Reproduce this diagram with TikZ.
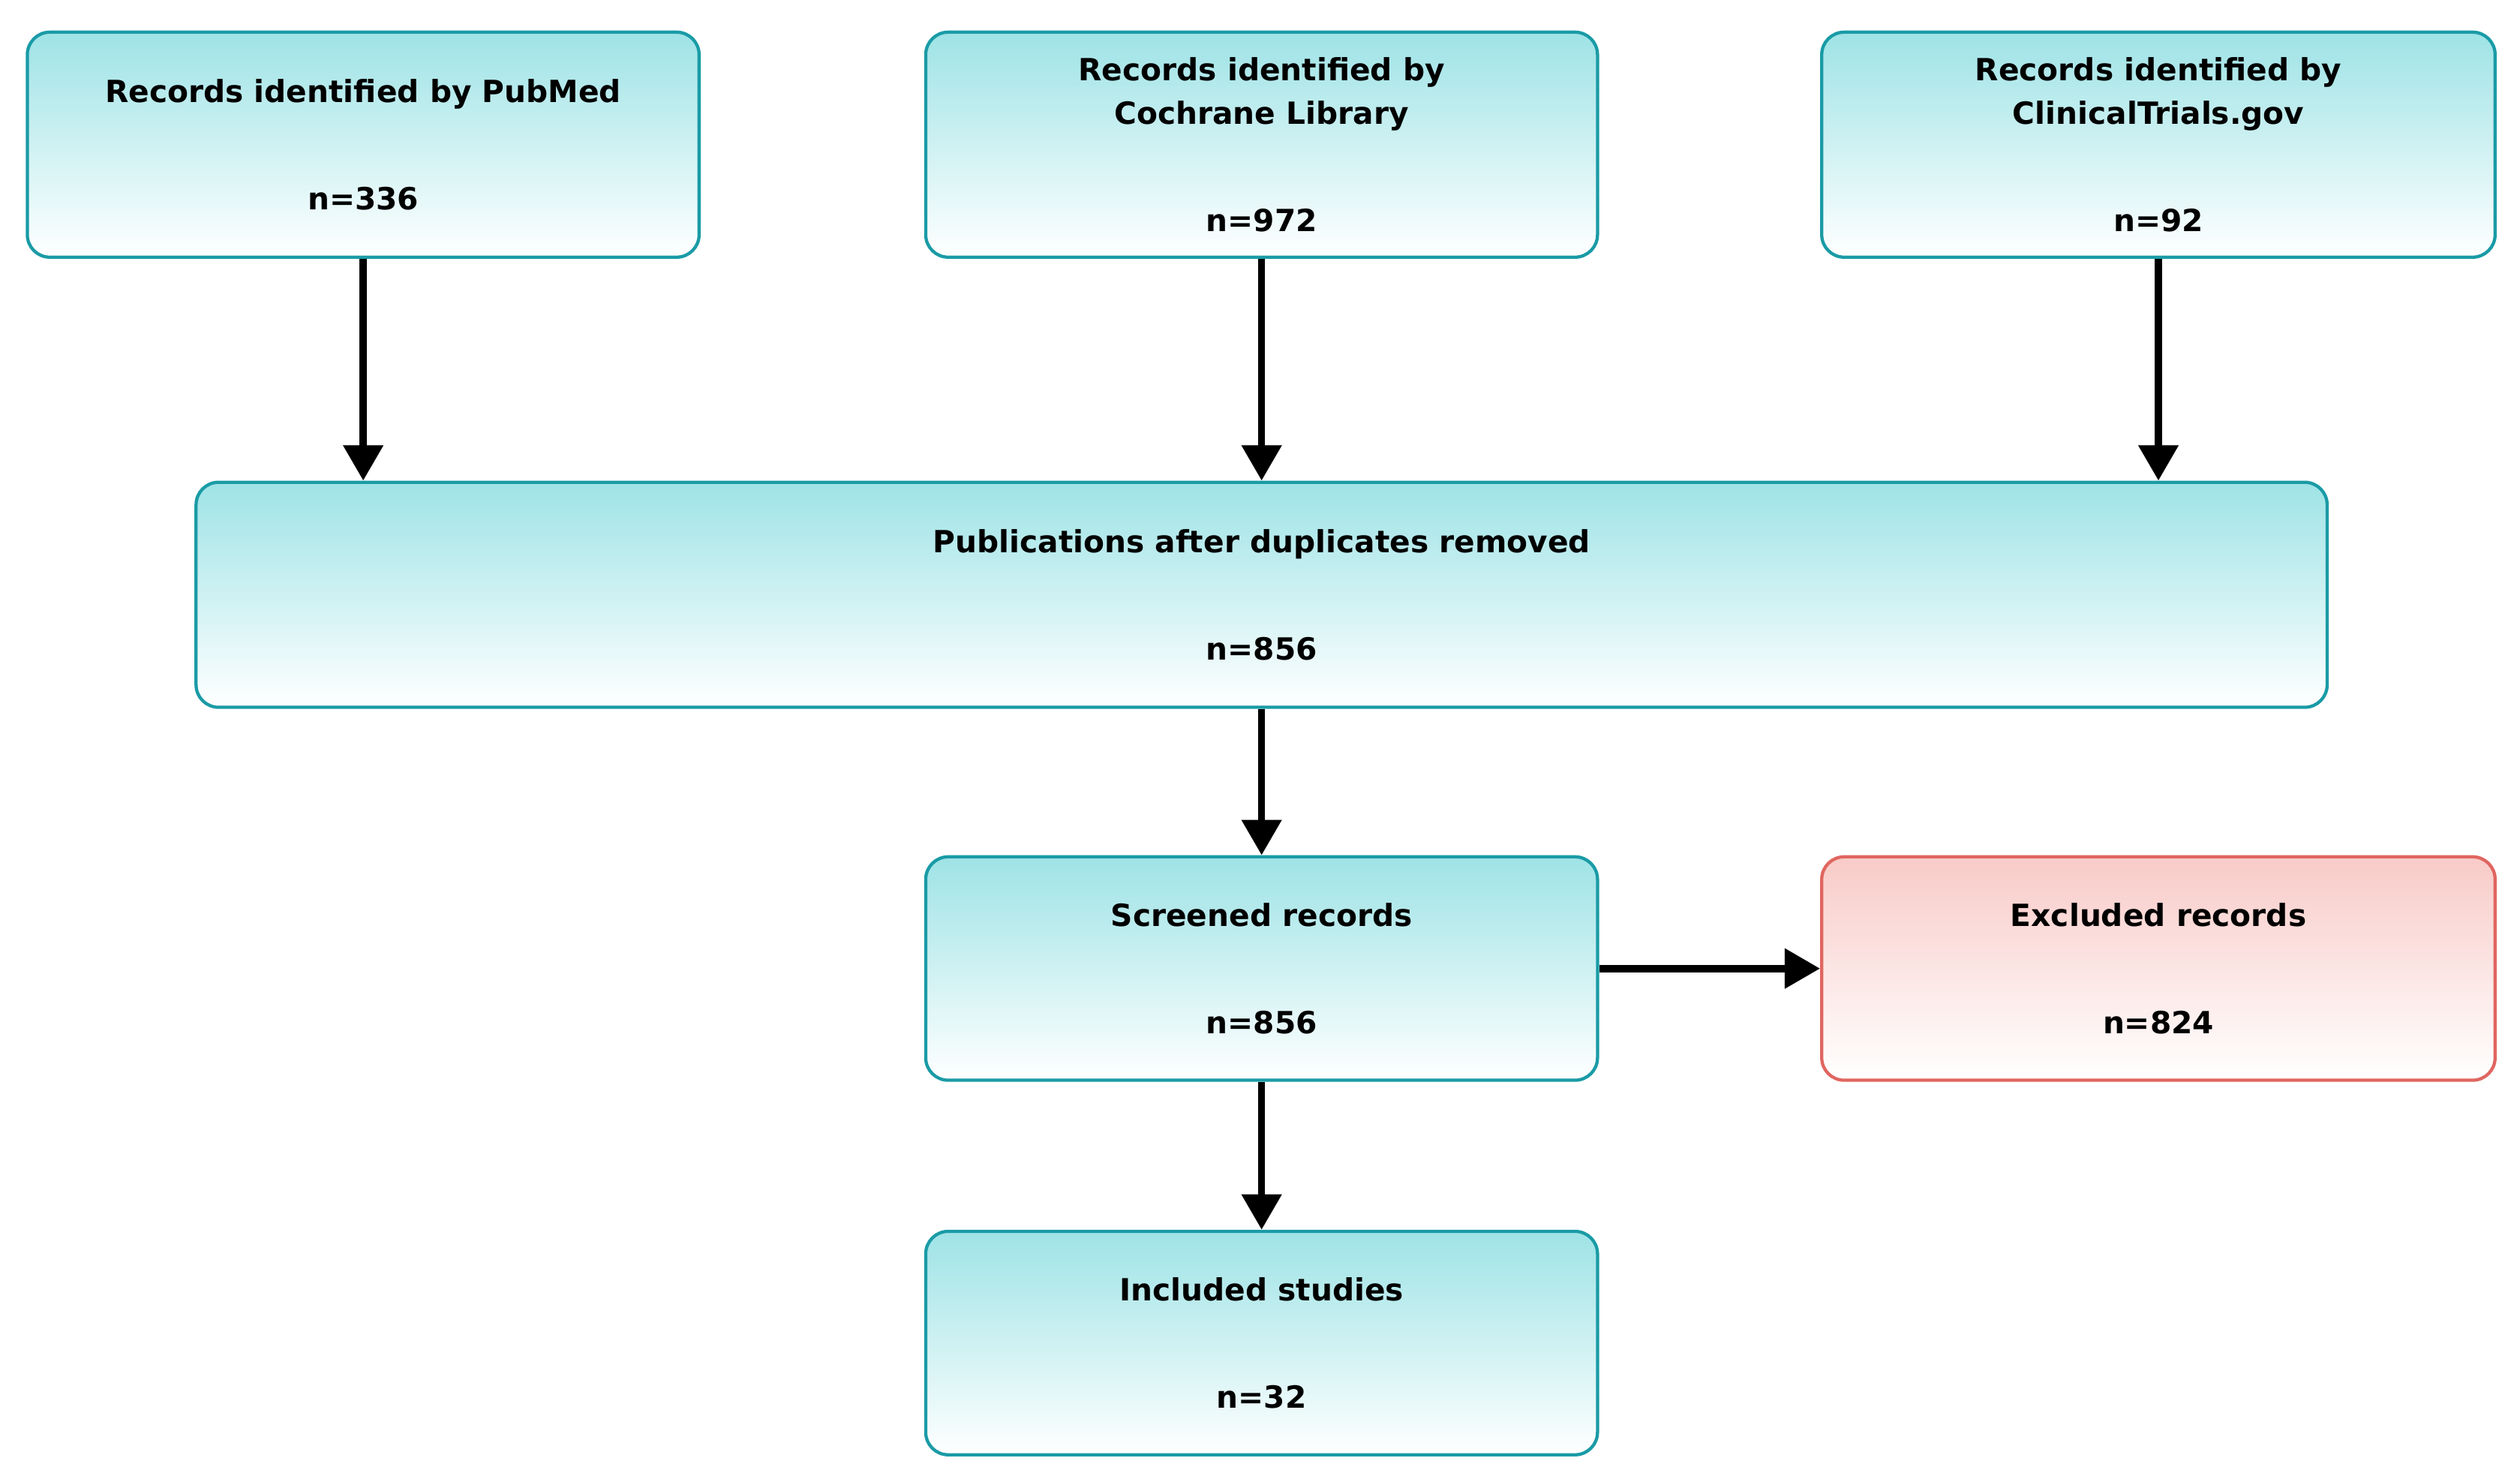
\documentclass[tikz,border=0pt]{standalone}
\usepackage{fontspec}
\setmainfont{DejaVu Sans}
\usetikzlibrary{arrows.meta}
\definecolor{tealb}{HTML}{1A9BA6}
\definecolor{cyant}{HTML}{9EE3E6}
\definecolor{redb}{HTML}{E06660}
\definecolor{redt}{HTML}{F8CBC8}
\begin{document}
\begin{tikzpicture}[x=1pt,y=-1pt,
 box/.style={draw=tealb,line width=2pt,rounded corners=14pt,top color=cyant,bottom color=white,
   minimum height=140pt,align=center,font=\bfseries\fontsize{19}{27}\selectfont,inner sep=0pt},
 rbox/.style={box,draw=redb,top color=redt},
 arr/.style={line width=4.5pt,-{Triangle[length=22pt,width=24pt]}}]
\useasboundingbox (0,0) rectangle (1568,916);
\node[box,minimum width=418pt] (pm) at (226,90) {Records identified by PubMed\\[40pt]n=336};
\node[box,minimum width=418pt] (co) at (785,90) {Records identified by\\Cochrane Library\\[40pt]n=972};
\node[box,minimum width=419pt] (ct) at (1343,90) {Records identified by\\ClinicalTrials.gov\\[40pt]n=92};
\node[box,minimum width=1326pt] (pu) at (785,370) {Publications after duplicates removed\\[40pt]n=856};
\node[box,minimum width=418pt,minimum height=139pt] (sc) at (785,602.5) {Screened records\\[40pt]n=856};
\node[rbox,minimum width=419pt,minimum height=139pt] (ex) at (1343,602.5) {Excluded records\\[40pt]n=824};
\node[box,minimum width=418pt,minimum height=139pt] (in) at (785,835.5) {Included studies\\[40pt]n=32};
\draw[arr] (pm.south) -- (pm.south |- pu.north);
\draw[arr] (co.south) -- (co.south |- pu.north);
\draw[arr] (ct.south) -- (ct.south |- pu.north);
\draw[arr] (pu.south) -- (sc.north);
\draw[arr] (sc.east) -- (ex.west);
\draw[arr] (sc.south) -- (in.north);
\end{tikzpicture}
\end{document}
